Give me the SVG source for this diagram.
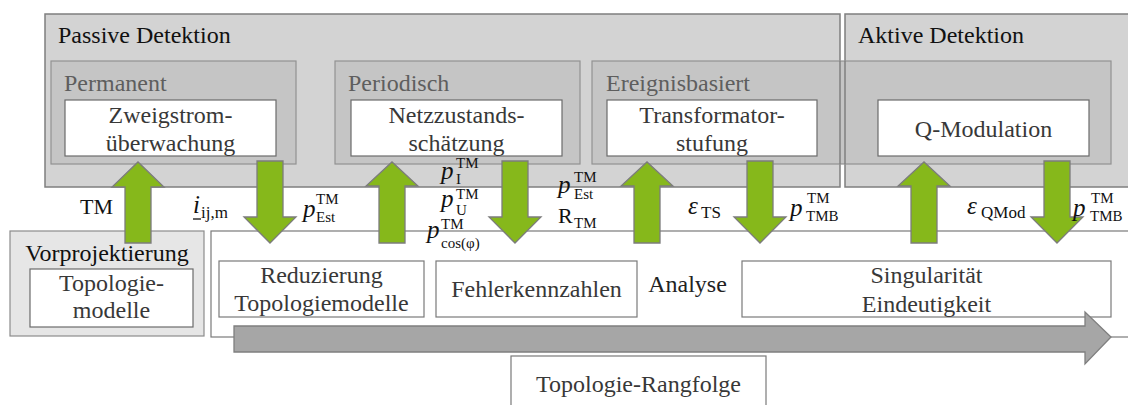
<svg xmlns="http://www.w3.org/2000/svg" width="1128" height="405" viewBox="0 0 1128 405" font-family="'Liberation Serif', serif">
  <style>
    svg text { font-family: 'Liberation Serif', serif; }
    .outer { fill: #d3d3d3; stroke: #7f7f7f; stroke-width: 1.5; }
    .mid { fill: #c5c5c5; stroke: #929292; stroke-width: 1.2; }
    .inner { fill: #ffffff; stroke: #6b6b6b; stroke-width: 1.2; }
    .plain { fill: #ffffff; stroke: #7a7a7a; stroke-width: 1.2; }
    .pre { fill: #e6e6e6; stroke: #8c8c8c; stroke-width: 1.2; }
    .title { font-size: 24px; fill: #111111; }
    .sub { font-size: 24px; fill: #5e5e5e; }
    .lbl { font-size: 24px; fill: #383838; text-anchor: middle; }
    .arrow { fill: #86b81b; stroke: #7c7c7c; stroke-width: 1.3; stroke-linejoin: miter; }
    .flow { fill: #a6a6a6; stroke: #7f7f7f; stroke-width: 1.3; }
    .m { fill: #111111; }
    .mi { font-style: italic; font-size: 25px; }
    .mu { font-size: 22px; }
    .ms { font-size: 17px; }
    .mt { font-size: 15px; }
  </style>

  <!-- Detection groups -->
  <g id="passive-detektion">
    <rect class="outer" x="45" y="14" width="795" height="173"/>
    <text class="title" x="58" y="43">Passive Detektion</text>
  </g>
  <g id="aktive-detektion">
    <rect class="outer" x="845" y="14" width="300" height="173"/>
    <text class="title" x="858" y="43">Aktive Detektion</text>
  </g>

  <g id="permanent">
    <rect class="mid" x="51" y="61" width="245" height="103"/>
    <text class="sub" x="64" y="91">Permanent</text>
  </g>
  <g id="periodisch">
    <rect class="mid" x="335" y="61" width="245" height="103"/>
    <text class="sub" x="348" y="91">Periodisch</text>
  </g>
  <g id="ereignisbasiert">
    <rect class="mid" x="592" y="61" width="519" height="103"/>
    <text class="sub" x="606" y="91">Ereignisbasiert</text>
    <!-- group borders running over the event box -->
    <line x1="840" y1="61" x2="840" y2="164" stroke="#7f7f7f" stroke-width="1.5"/>
    <line x1="845" y1="61" x2="845" y2="164" stroke="#7f7f7f" stroke-width="1.5"/>
  </g>

  <g id="zweigstrom">
    <rect class="inner" x="65" y="100" width="211" height="56"/>
    <text class="lbl" x="170.5" y="123">Zweigstrom-</text>
    <text class="lbl" x="170.5" y="151">überwachung</text>
  </g>
  <g id="netzzustand">
    <rect class="inner" x="351" y="100" width="211" height="56"/>
    <text class="lbl" x="456.5" y="123">Netzzustands-</text>
    <text class="lbl" x="456.5" y="151">schätzung</text>
  </g>
  <g id="transformator">
    <rect class="inner" x="607" y="100" width="210" height="56"/>
    <text class="lbl" x="712" y="123">Transformator-</text>
    <text class="lbl" x="712" y="151">stufung</text>
  </g>
  <g id="qmodulation">
    <rect class="inner" x="878" y="100" width="211" height="56"/>
    <text class="lbl" x="983.5" y="137">Q-Modulation</text>
  </g>

  <!-- Pre-planning -->
  <g id="vorprojektierung">
    <rect class="pre" x="10" y="231" width="194" height="105"/>
    <text class="lbl" x="107" y="261" style="fill:#111111">Vorprojektierung</text>
  </g>
  <g id="topologiemodelle">
    <rect class="inner" x="30" y="269" width="163" height="58"/>
    <text class="lbl" x="111.5" y="291">Topologie-</text>
    <text class="lbl" x="111.5" y="318">modelle</text>
  </g>

  <!-- Analysis area -->
  <g id="analyse">
    <rect class="plain" x="211" y="231" width="940" height="106"/>
    <text class="lbl" x="687.5" y="292" style="fill:#222222">Analyse</text>
  </g>
  <g id="reduzierung">
    <rect class="plain" x="219" y="261" width="205" height="56"/>
    <text class="lbl" x="321.5" y="283">Reduzierung</text>
    <text class="lbl" x="321.5" y="311">Topologiemodelle</text>
  </g>
  <g id="fehlerkennzahlen">
    <rect class="plain" x="436" y="261" width="201" height="56"/>
    <text class="lbl" x="536.5" y="297">Fehlerkennzahlen</text>
  </g>
  <g id="singularitaet">
    <rect class="plain" x="742" y="261" width="369" height="56"/>
    <text class="lbl" x="926.5" y="283">Singularität</text>
    <text class="lbl" x="926.5" y="312">Eindeutigkeit</text>
  </g>
  <g id="rangfolge">
    <rect class="plain" x="511" y="356" width="255" height="60"/>
    <text class="lbl" x="638.5" y="392">Topologie-Rangfolge</text>
  </g>

  <!-- Connectors -->
  <g id="connectors">
    <!-- process flow -->
    <path class="flow" d="M234,326 L1085,326 L1085,312 L1111,337 L1085,364 L1085,352 L234,352 Z"/>
    <!-- upward arrows -->
    <path class="arrow" d="M125,243 L125,187 L112,187 L138,162 L164,187 L151,187 L151,243 Z"/>
    <path class="arrow" d="M379,243 L379,186 L366,186 L392,162 L418,186 L405,186 L405,243 Z"/>
    <path class="arrow" d="M634,243 L634,186 L621,186 L647,162 L673,186 L660,186 L660,243 Z"/>
    <path class="arrow" d="M911,243 L911,186 L898,186 L924,162 L950,186 L937,186 L937,243 Z"/>
    <!-- downward arrows -->
    <path class="arrow" d="M257,161 L257,217 L244,217 L270,243 L296,217 L283,217 L283,161 Z"/>
    <path class="arrow" d="M502,161 L502,217 L489,217 L515,243 L541,217 L528,217 L528,161 Z"/>
    <path class="arrow" d="M747,161 L747,217 L734,217 L760,243 L786,217 L773,217 L773,161 Z"/>
    <path class="arrow" d="M1044,161 L1044,217 L1031,217 L1057,243 L1083,217 L1070,217 L1070,161 Z"/>
  </g>

  <!-- Exchanged quantities -->
  <g id="labels" class="m">
    <text class="mu" x="80" y="214">TM</text>

    <text class="mi" x="193" y="213">i</text>
    <line x1="193" y1="219" x2="201" y2="219" stroke="#111111" stroke-width="1.3"/>
    <text class="ms" x="201" y="218">ij,m</text>

    <text class="mi" x="303" y="217">p</text>
    <text class="mt" x="316" y="204">TM</text>
    <text class="mt" x="316" y="222">Est</text>

    <!-- stacked state-estimation quantities -->
    <text class="mi" x="441" y="179">p</text>
    <text class="mt" x="456" y="168">TM</text>
    <text class="mt" x="456" y="184">I</text>

    <text class="mi" x="441" y="207">p</text>
    <text class="mt" x="456" y="199">TM</text>
    <text class="mt" x="456" y="215">U</text>

    <text class="mi" x="427" y="238">p</text>
    <text class="mt" x="441" y="229">TM</text>
    <text class="mt" x="441" y="248">cos(φ)</text>

    <text class="mi" x="558" y="193">p</text>
    <text class="mt" x="574" y="182">TM</text>
    <text class="mt" x="574" y="199">Est</text>

    <text class="mu" x="558" y="223">R</text>
    <text class="mt" x="574" y="228">TM</text>

    <text class="mi" x="688" y="214">ε</text>
    <text class="ms" x="701" y="218">TS</text>

    <text class="mi" x="790" y="216">p</text>
    <text class="mt" x="807" y="203">TM</text>
    <text class="mt" x="806" y="221">TMB</text>

    <text class="mi" x="967" y="214">ε</text>
    <text class="ms" x="981" y="218">QMod</text>

    <text class="mi" x="1073" y="216">p</text>
    <text class="mt" x="1091" y="203">TM</text>
    <text class="mt" x="1090" y="221">TMB</text>
  </g>
</svg>
